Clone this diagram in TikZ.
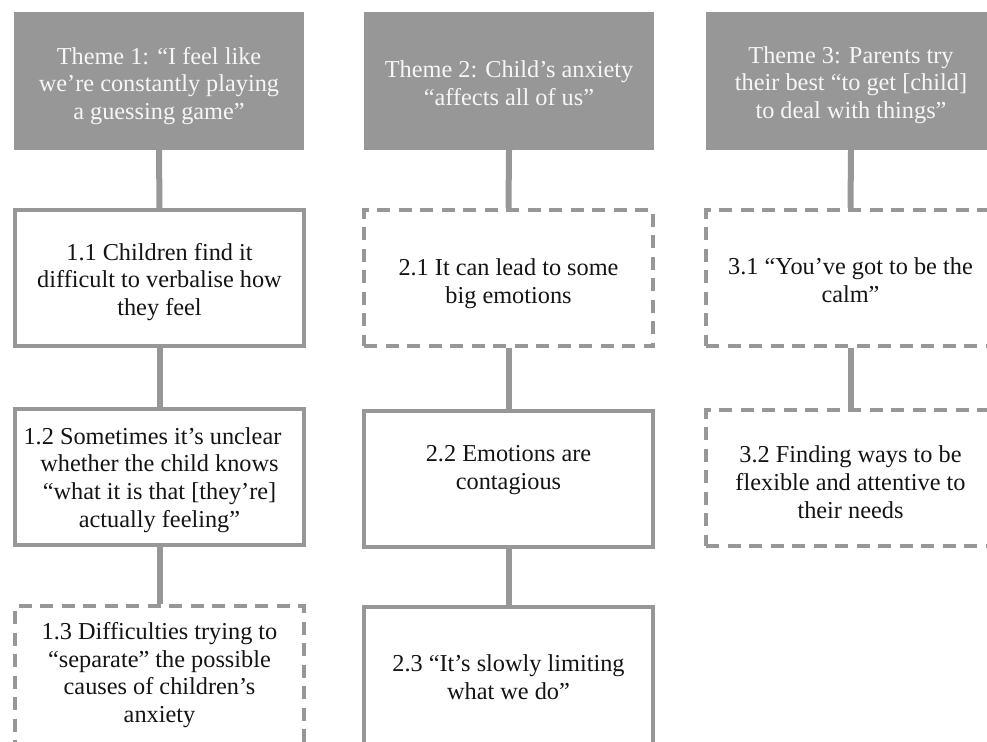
\documentclass[tikz,border=0pt]{standalone}
\usepackage{fontspec}
\setmainfont{Liberation Serif}
\definecolor{tgray}{RGB}{151,151,151}
\definecolor{ink}{RGB}{20,20,20}
\definecolor{paper}{RGB}{246,246,246}
\tikzset{
  box/.style={draw=tgray, line width=4pt, minimum width=289pt, minimum height=136pt, inner sep=0pt, fill=white},
  dbox/.style={box, dash pattern=on 13pt off 8.5pt},
  tallbox/.style={minimum height=148pt},
  theme/.style={fill=tgray, minimum width=290pt, minimum height=138pt, inner sep=0pt},
  txt/.style={align=center, font=\fontsize{24.3}{27.8}\selectfont, text=ink, inner sep=0pt},
  ttxt/.style={txt, text=paper},
  link/.style={draw=tgray, line width=6pt}
}
\begin{document}
\begin{tikzpicture}[x=1pt,y=-1pt]
\useasboundingbox (0,0) rectangle (987,741);
\clip (0,0) rectangle (987,741);
\fill[white] (0,0) rectangle (987,741);
% theme boxes
\node[theme] (th1) at (159,81) {};
\node[theme] (th2) at (509,81) {};
\node[theme] (th3) at (851,81) {};
% column 1
\node[box]  (b11) at (159.5,278) {};
\node[box]  (b12) at (159.5,477) {};
\node[dbox, tallbox] (b13) at (159.5,680) {};
% column 2
\node[dbox] (b21) at (508.5,278) {};
\node[box]  (b22) at (508.5,479) {};
\node[box, tallbox]  (b23) at (508.5,681) {};
% column 3
\node[dbox] (b31) at (850.5,278) {};
\node[dbox] (b32) at (850.5,478) {};
% connectors
\draw[link] (th1.south) -- (b11.north);
\draw[link] (b11.south) -- (b12.north);
\draw[link] (b12.south) -- (b13.north);
\draw[link] (th2.south) -- (b21.north);
\draw[link] (b21.south) -- (b22.north);
\draw[link] (b22.south) -- (b23.north);
\draw[link] (th3.south) -- (b31.north);
\draw[link] (b31.south) -- (b32.north);
% texts
\node[ttxt] (t1) at ([yshift=-5pt]th1.center) {Theme 1: “I feel like\\we’re constantly playing\\a guessing game”};
\node[ttxt] (t2) at ([yshift=-2pt]th2.center) {Theme 2: Child’s anxiety\\“affects all of us”};
\node[ttxt] (t3) at ([yshift=-4pt]th3.center) {Theme 3: Parents try\\their best “to get [child]\\to deal with things”};
\node[txt] (t11) at ([yshift=-4pt]b11.center) {1.1 Children find it\\difficult to verbalise how\\they feel};
\node[txt] (t12) at ([yshift=-3pt]b12.center) {1.2 Sometimes it’s unclear\hspace*{14pt}\\whether the child knows\\“what it is that [they’re]\\actually feeling”};
\node[txt] (t13) at ([yshift=5pt]b13.center) {1.3 Difficulties trying to\\“separate” the possible\\causes of children’s\\anxiety};
\node[txt] (t21) at ([yshift=-6pt]b21.center) {2.1 It can lead to some\\big emotions};
\node[txt] (t22) at ([yshift=9pt]b22.center) {2.2 Emotions are\\contagious};
\node[txt] (t23) at ([yshift=4pt]b23.center) {2.3 “It’s slowly limiting\\what we do”};
\node[txt] (t31) at ([yshift=-2pt]b31.center) {3.1 “You’ve got to be the\\calm”};
\node[txt] (t32) at ([yshift=-4pt]b32.center) {3.2 Finding ways to be\\flexible and attentive to\\their needs};
\end{tikzpicture}
\end{document}
